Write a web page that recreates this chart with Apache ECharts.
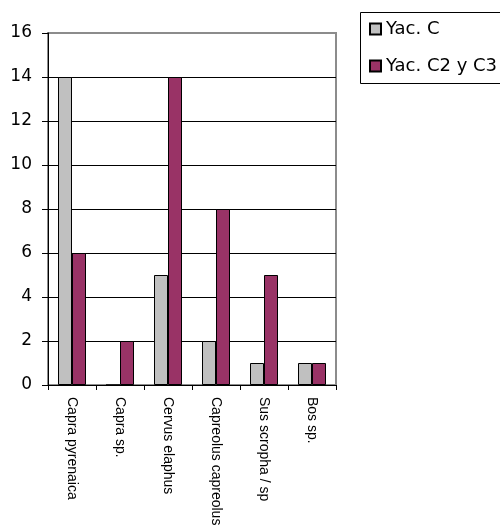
<!DOCTYPE html>
<html>
<head>
<meta charset="utf-8">
<script src="https://cdn.jsdelivr.net/npm/echarts@6/dist/echarts.min.js"></script>
<style>html,body{margin:0;padding:0;background:#fff;}#c{width:500px;height:531px;}</style>
</head>
<body>
<div id="c"></div>
<script>
const categories = ['Capra pyrenaica', 'Capra sp.', 'Cervus elaphus', 'Capreolus capreolus', 'Sus scropha / sp', 'Bos sp.'];
const seriesNames = ['Yac. C', 'Yac. C2 y C3'];
const yacC = [14, 0, 5, 2, 1, 1];
const yacC2C3 = [6, 2, 14, 8, 5, 1];
const yTicks = { min: 0, max: 16, interval: 2 };

const chart = echarts.init(document.getElementById('c'), null, { renderer: 'canvas' });
chart.setOption({
  animation: false,
  backgroundColor: '#fff',
  graphic: [{
    type: 'rect', left: 360, top: 12, z: 0,
    shape: { width: 220, height: 71 },
    style: { fill: '#fff', stroke: '#000', lineWidth: 1 }
  }],
  legend: {
    orient: 'vertical',
    left: 360, top: 12,
    padding: [8, 0, 10, 9],
    itemWidth: 11, itemHeight: 11, itemGap: 19,
    icon: 'rect',
    z: 10,
    textStyle: { fontFamily: 'DejaVu Sans', fontSize: 18, color: '#000' },
    data: seriesNames
  },
  grid: {
    left: 48, right: 164, top: 33, bottom: 146,
    show: true, borderColor: '#8c8c8c', borderWidth: 2, backgroundColor: 'transparent'
  },
  xAxis: {
    type: 'category',
    data: categories,
    axisLine: { lineStyle: { color: '#000', width: 1 } },
    axisTick: { show: true, length: 5, lineStyle: { color: '#000' } },
    axisLabel: { rotate: -90, margin: 12, interval: 0, fontFamily: 'Liberation Sans', fontSize: 14, color: '#000' }
  },
  yAxis: {
    type: 'value',
    min: yTicks.min, max: yTicks.max, interval: yTicks.interval,
    axisLine: { show: true, lineStyle: { color: '#000', width: 1 } },
    axisTick: { show: true, length: 6, lineStyle: { color: '#000' } },
    axisLabel: { margin: 16, fontFamily: 'DejaVu Sans', fontSize: 17, color: '#000' },
    splitLine: { show: true, showMaxLine: false, lineStyle: { color: '#000', width: 1 } }
  },
  series: [
    { name: seriesNames[0], type: 'bar', data: yacC, barWidth: 14, barGap: '0%',
      itemStyle: { color: '#C0C0C0', borderColor: '#000', borderWidth: 1 } },
    { name: seriesNames[1], type: 'bar', data: yacC2C3, barWidth: 14, barGap: '0%',
      itemStyle: { color: '#993366', borderColor: '#000', borderWidth: 1 } }
  ]
});
</script>
</body>
</html>
